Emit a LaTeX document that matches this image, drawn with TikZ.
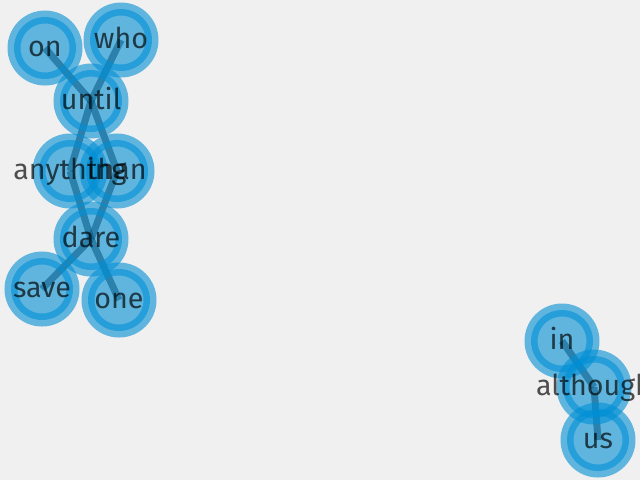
\documentclass[tikz,border=0pt]{standalone}
\usepackage{fontspec}
\setmainfont{Fira Sans}
\definecolor{nodeblue}{HTML}{008FD5}
\definecolor{backdrop}{HTML}{F0F0F0}
\pgfdeclarelayer{backdrop}
\pgfdeclarelayer{edges}
\pgfsetlayers{backdrop,edges,main}

\begin{document}
\begin{tikzpicture}[
    x=0.75pt, y=-0.75pt,
    word/.style={circle, minimum size=46.5pt, inner sep=0pt,
        draw=nodeblue, fill=nodeblue, draw opacity=0.6, fill opacity=0.6,
        line width=9.75pt},
    wordlabel/.style={text=black, text opacity=0.68, inner sep=0pt,
        text height=1.3em, text depth=0.1em,
        font=\fontsize{21.5}{24}\selectfont},
    link/.style={line width=5.25pt, draw=black, draw opacity=0.55}
]
    \useasboundingbox (0,0) rectangle (640,480);
    \begin{pgfonlayer}{backdrop}
        \fill[backdrop] (0,0) rectangle (640,480);
    \end{pgfonlayer}
    \clip (0,0) rectangle (640,480);
    \node[word] (on) at (45,48) {};
    \node[word] (who) at (121,40) {};
    \node[word] (until) at (91,101) {};
    \node[word] (anything) at (70,171) {};
    \node[word] (than) at (117,171) {};
    \node[word] (dare) at (91,239) {};
    \node[word] (save) at (42,289) {};
    \node[word] (one) at (119,300) {};
    \node[word] (in) at (562,341) {};
    \node[word] (although) at (594,387) {};
    \node[word] (us) at (598,440) {};
    \begin{pgfonlayer}{edges}
        \draw[link] (on.center) -- (until.center);
        \draw[link] (who.center) -- (until.center);
        \draw[link] (until.center) -- (anything.center);
        \draw[link] (until.center) -- (than.center);
        \draw[link] (anything.center) -- (dare.center);
        \draw[link] (than.center) -- (dare.center);
        \draw[link] (dare.center) -- (save.center);
        \draw[link] (dare.center) -- (one.center);
        \draw[link] (in.center) -- (although.center);
        \draw[link] (although.center) -- (us.center);
    \end{pgfonlayer}
    \node[wordlabel] at (on) {on};
    \node[wordlabel] at (who) {who};
    \node[wordlabel] at (until) {until};
    \node[wordlabel] at (anything) {anything};
    \node[wordlabel] at (than) {than};
    \node[wordlabel] at (dare) {dare};
    \node[wordlabel] at (save) {save};
    \node[wordlabel] at (one) {one};
    \node[wordlabel] at (in) {in};
    \node[wordlabel] at (although) {although};
    \node[wordlabel] at (us) {us};
\end{tikzpicture}
\end{document}
